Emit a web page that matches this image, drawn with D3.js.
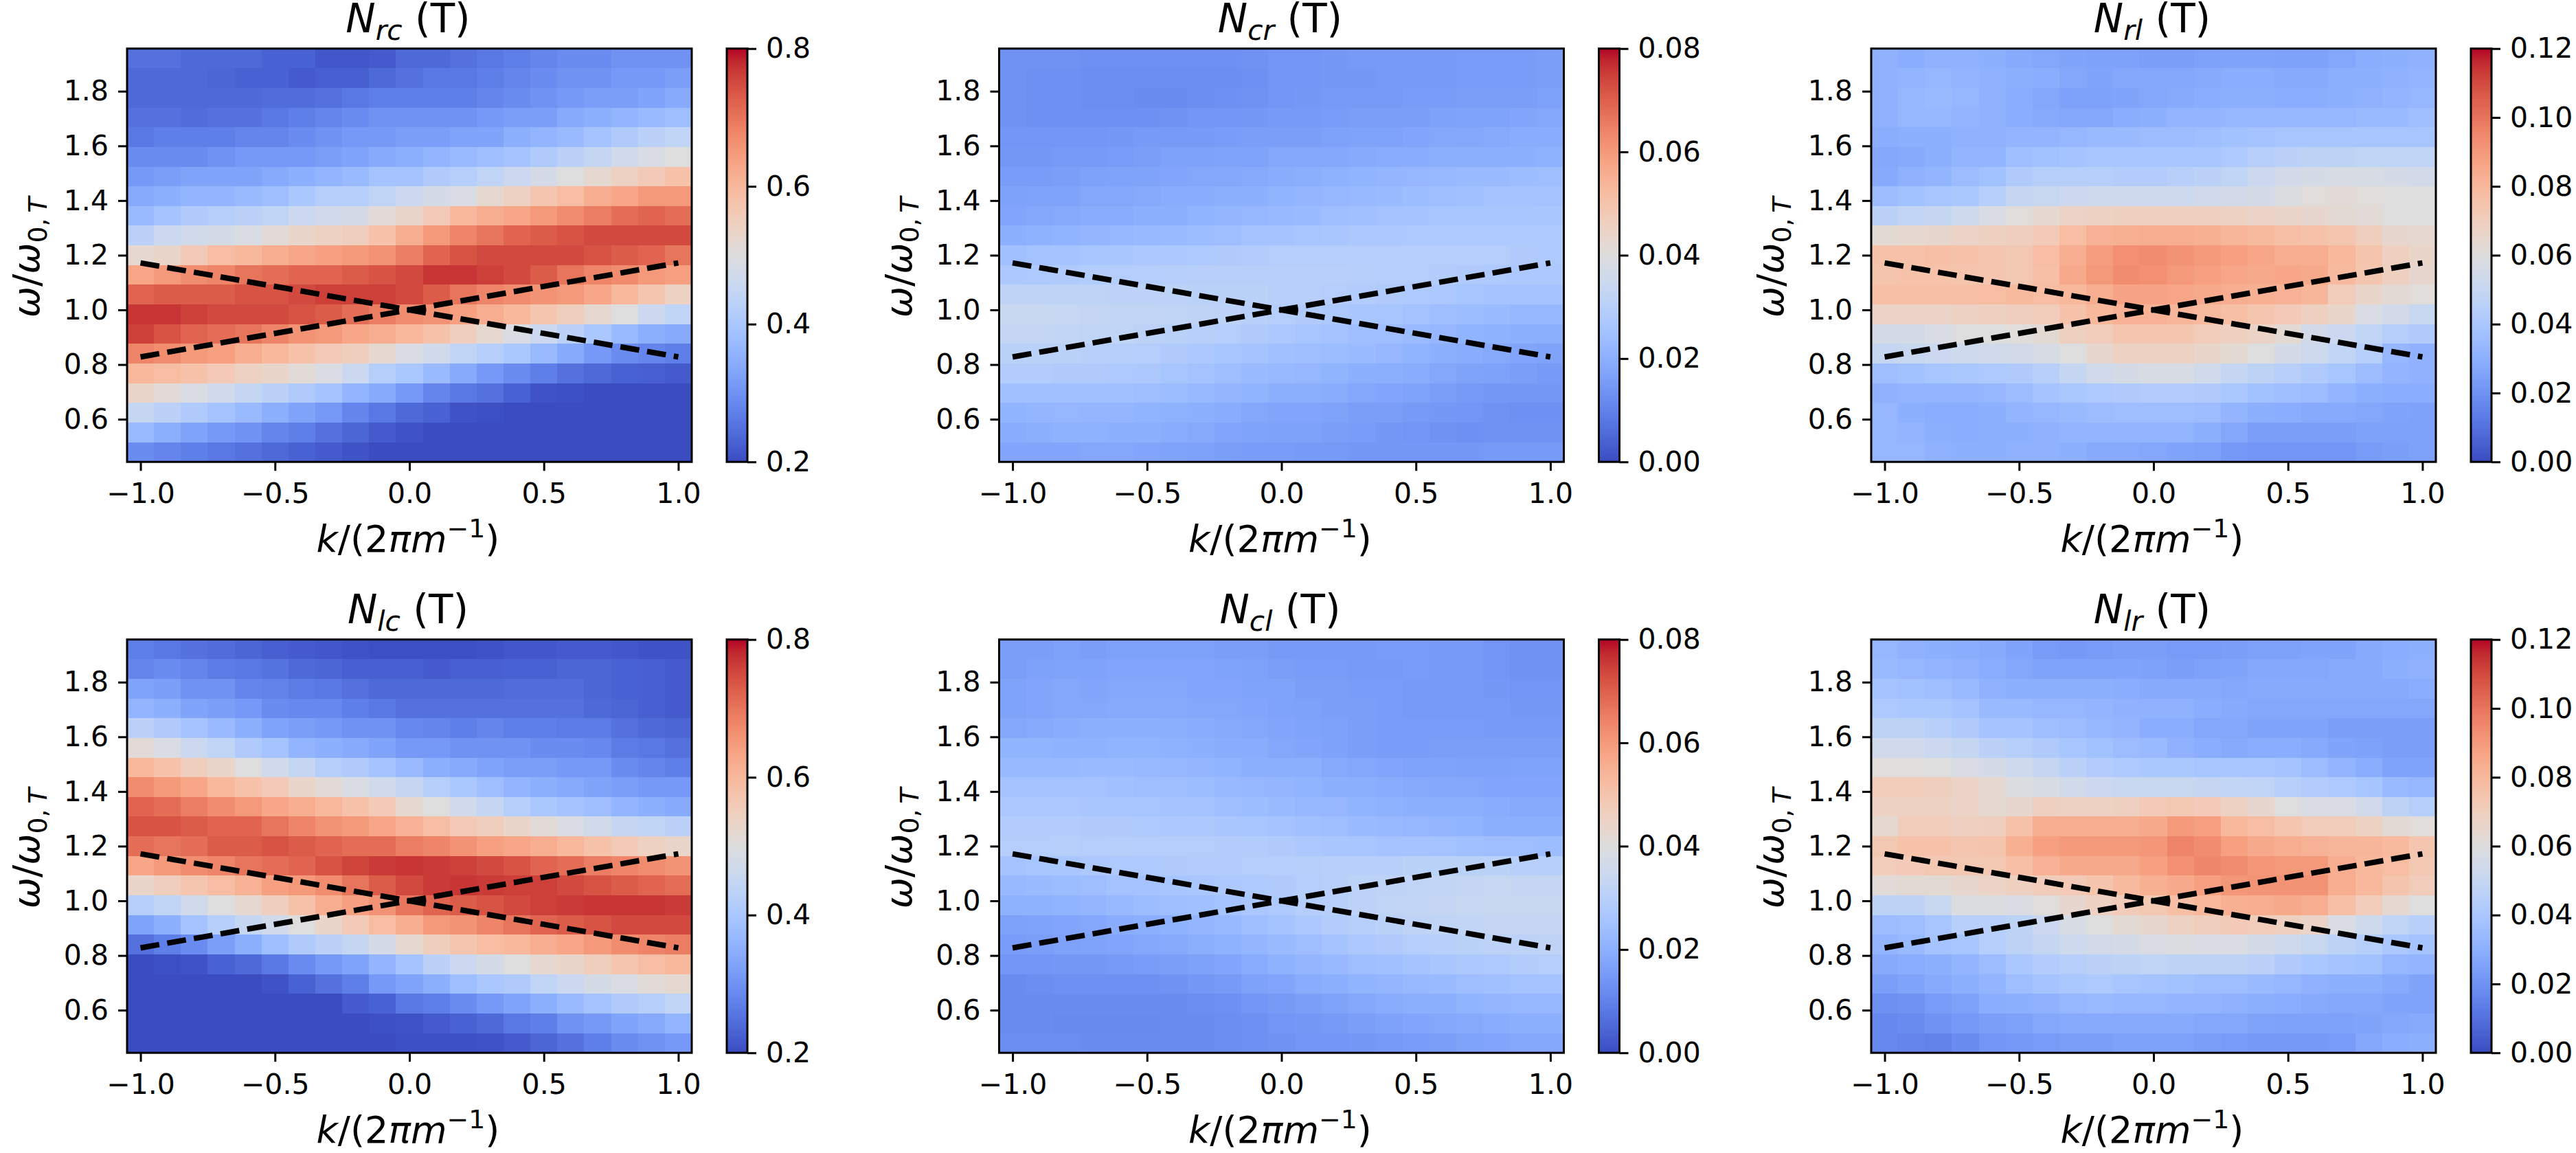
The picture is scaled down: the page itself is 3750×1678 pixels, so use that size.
<!DOCTYPE html>
<html>
<head>
<meta charset="utf-8">
<script src="https://cdn.jsdelivr.net/npm/d3@7/dist/d3.min.js"></script>
<style>
html,body{margin:0;padding:0;background:#fff;overflow:hidden;width:3750px;height:1678px}
svg{display:block}
text{font-family:"DejaVu Sans";fill:#000}
</style>
</head>
<body>
<svg id="fig" width="3750" height="1678" viewBox="0 0 3750 1678"></svg>
<script>
const kValues=[-1,-0.9,-0.8,-0.7,-0.6,-0.5,-0.4,-0.3,-0.2,-0.1,0,0.1,0.2,0.3,0.4,0.5,0.6,0.7,0.8,0.9,1];
const wValues=[1.92,1.848,1.776,1.704,1.632,1.56,1.488,1.416,1.344,1.272,1.2,1.128,1.056,0.984,0.912,0.84,0.768,0.696,0.624,0.552,0.48];
const xTicks=[-1,-0.5,0,0.5,1];
const yTicks=[0.6,0.8,1.0,1.2,1.4,1.6,1.8];
const lineK=[-1,0,1];
const lineDown=[1.172,1,0.828];
const lineUp=[0.828,1,1.172];

const Nrc=[
[.25,.25,.24,.24,.24,.23,.23,.215,.215,.22,.24,.24,.25,.26,.27,.28,.29,.29,.30,.30,.30],
[.24,.24,.24,.235,.23,.23,.22,.225,.225,.24,.25,.26,.26,.27,.28,.29,.30,.30,.31,.31,.32],
[.24,.24,.24,.24,.24,.245,.245,.25,.26,.27,.27,.27,.27,.28,.29,.30,.31,.32,.32,.33,.34],
[.25,.25,.245,.25,.25,.26,.27,.28,.29,.30,.30,.30,.30,.31,.32,.32,.34,.35,.36,.37,.38],
[.26,.27,.27,.27,.28,.28,.29,.30,.31,.31,.32,.32,.33,.33,.35,.36,.37,.39,.41,.43,.44],
[.29,.29,.29,.30,.31,.31,.31,.32,.33,.34,.35,.36,.37,.38,.39,.41,.43,.45,.47,.49,.50],
[.31,.32,.33,.33,.33,.34,.35,.36,.37,.39,.39,.41,.42,.44,.46,.48,.50,.52,.54,.56,.58],
[.34,.35,.36,.36,.37,.38,.40,.42,.42,.44,.46,.48,.49,.52,.54,.57,.59,.62,.63,.65,.65],
[.37,.39,.41,.42,.43,.44,.46,.47,.48,.51,.53,.56,.60,.62,.63,.65,.67,.69,.71,.72,.71],
[.43,.46,.47,.48,.49,.51,.53,.54,.55,.58,.62,.65,.68,.70,.72,.73,.74,.75,.75,.75,.75],
[.52,.53,.56,.59,.60,.62,.63,.64,.65,.66,.69,.72,.74,.75,.75,.75,.75,.74,.73,.72,.70],
[.63,.65,.67,.68,.70,.71,.72,.72,.73,.74,.75,.77,.77,.76,.75,.73,.70,.68,.67,.65,.64],
[.72,.73,.73,.73,.74,.74,.75,.76,.76,.76,.75,.73,.70,.68,.67,.66,.65,.63,.60,.57,.54],
[.77,.77,.76,.75,.75,.75,.74,.73,.71,.69,.67,.66,.64,.62,.60,.57,.55,.52,.50,.46,.44],
[.76,.74,.72,.71,.70,.68,.66,.65,.63,.62,.60,.58,.55,.52,.49,.46,.43,.40,.37,.35,.34],
[.68,.67,.65,.64,.62,.60,.58,.56,.55,.52,.49,.47,.44,.42,.40,.37,.34,.31,.29,.28,.27],
[.60,.59,.58,.56,.54,.53,.51,.49,.46,.42,.40,.37,.34,.31,.29,.27,.25,.24,.23,.225,.22],
[.53,.51,.49,.47,.45,.43,.41,.39,.36,.34,.31,.28,.26,.25,.23,.21,.205,.20,.20,.20,.20],
[.45,.43,.41,.39,.37,.35,.33,.31,.28,.26,.24,.23,.21,.205,.20,.20,.20,.20,.20,.20,.20],
[.37,.35,.33,.31,.30,.28,.27,.25,.235,.22,.21,.20,.20,.20,.20,.20,.20,.20,.20,.20,.20],
[.29,.28,.27,.26,.25,.24,.23,.22,.21,.20,.20,.20,.20,.20,.20,.20,.20,.20,.20,.20,.20]];

const Nlc=[
[.27,.26,.25,.245,.235,.225,.22,.215,.21,.205,.205,.205,.205,.21,.215,.215,.22,.22,.215,.21,.21],
[.28,.29,.28,.265,.26,.255,.24,.235,.225,.225,.225,.22,.225,.225,.23,.23,.235,.235,.23,.225,.22],
[.33,.32,.30,.30,.28,.275,.265,.26,.25,.24,.24,.24,.24,.24,.245,.245,.245,.235,.23,.225,.22],
[.36,.35,.33,.32,.31,.29,.285,.285,.27,.26,.25,.25,.25,.25,.25,.25,.25,.24,.235,.225,.22],
[.43,.41,.39,.37,.35,.33,.32,.31,.30,.30,.285,.28,.27,.28,.27,.27,.265,.265,.25,.24,.235],
[.51,.49,.46,.44,.41,.39,.36,.35,.34,.33,.31,.31,.30,.30,.30,.29,.29,.285,.265,.26,.25],
[.60,.58,.55,.53,.50,.47,.45,.42,.41,.39,.37,.35,.34,.33,.32,.32,.31,.31,.29,.28,.27],
[.67,.65,.63,.60,.58,.56,.53,.51,.49,.47,.45,.42,.40,.38,.36,.35,.34,.33,.32,.31,.31],
[.72,.71,.69,.67,.65,.63,.62,.60,.58,.56,.52,.50,.47,.45,.42,.40,.39,.38,.36,.35,.34],
[.74,.74,.73,.72,.72,.70,.68,.66,.65,.63,.61,.59,.56,.55,.53,.51,.49,.47,.45,.44,.43],
[.71,.70,.71,.73,.73,.74,.73,.72,.71,.71,.69,.68,.66,.64,.63,.62,.60,.58,.56,.54,.53],
[.63,.65,.67,.68,.70,.71,.72,.74,.755,.765,.77,.765,.76,.75,.74,.72,.71,.69,.68,.67,.66],
[.53,.55,.57,.59,.61,.64,.65,.67,.70,.73,.75,.765,.77,.765,.76,.76,.75,.74,.73,.72,.71],
[.42,.44,.47,.50,.52,.55,.58,.62,.64,.66,.70,.72,.73,.74,.75,.76,.765,.77,.77,.77,.765],
[.33,.35,.39,.42,.45,.47,.50,.53,.56,.59,.62,.65,.66,.68,.70,.72,.73,.74,.75,.75,.75],
[.25,.27,.29,.32,.35,.38,.41,.43,.45,.48,.52,.55,.57,.59,.60,.62,.63,.65,.67,.68,.69],
[.20,.205,.21,.23,.24,.26,.29,.31,.33,.36,.39,.43,.46,.48,.50,.52,.53,.55,.57,.59,.60],
[.20,.20,.20,.20,.20,.21,.23,.25,.27,.31,.33,.35,.38,.40,.41,.44,.46,.48,.49,.51,.52],
[.20,.20,.20,.20,.20,.20,.20,.20,.22,.23,.26,.27,.29,.31,.33,.35,.37,.39,.41,.42,.44],
[.20,.20,.20,.20,.20,.20,.20,.20,.20,.205,.21,.22,.23,.24,.26,.27,.30,.31,.33,.34,.36],
[.20,.20,.20,.20,.20,.20,.20,.20,.20,.20,.205,.205,.205,.21,.22,.235,.25,.27,.29,.30,.31]];

const Ncr=[
[.0135,.0135,.0135,.013,.013,.013,.013,.013,.013,.0135,.014,.014,.0145,.015,.015,.015,.015,.0155,.0155,.0155,.016],
[.0135,.013,.013,.0125,.0125,.0125,.0125,.0125,.0125,.013,.014,.014,.0145,.0145,.015,.015,.015,.0155,.0155,.0155,.016],
[.0135,.013,.013,.0125,.0125,.012,.012,.0125,.013,.0135,.014,.0145,.015,.015,.015,.0155,.0155,.016,.016,.016,.0165],
[.0135,.013,.013,.013,.013,.013,.0135,.014,.014,.0145,.015,.015,.0155,.016,.016,.016,.0165,.017,.017,.0175,.018],
[.014,.014,.014,.014,.0145,.015,.015,.015,.0155,.016,.016,.016,.0165,.017,.017,.0175,.018,.018,.0185,.019,.019],
[.0145,.0145,.015,.015,.0155,.016,.0165,.0165,.017,.017,.018,.018,.018,.0185,.019,.019,.0195,.02,.02,.02,.0205],
[.0155,.0155,.016,.0165,.017,.017,.0175,.018,.018,.0185,.019,.0195,.0205,.021,.0215,.022,.0225,.023,.023,.0235,.024],
[.0165,.017,.017,.018,.018,.0185,.019,.019,.02,.02,.021,.0215,.022,.0225,.023,.0235,.024,.0245,.025,.025,.025],
[.0175,.018,.0185,.019,.019,.02,.02,.021,.0215,.022,.0225,.023,.024,.0245,.025,.0255,.026,.026,.026,.026,.0265],
[.02,.0205,.021,.0215,.022,.0225,.023,.0235,.024,.025,.0255,.026,.0265,.027,.027,.0275,.0275,.0275,.0275,.0275,.0275],
[.0245,.025,.0255,.026,.0265,.027,.027,.0275,.028,.0285,.029,.029,.029,.029,.029,.029,.029,.029,.029,.028,.0275],
[.027,.0275,.028,.0285,.029,.029,.0295,.03,.03,.03,.03,.03,.03,.0295,.029,.029,.0285,.028,.0275,.027,.027],
[.0315,.0315,.0315,.0315,.031,.031,.031,.0305,.0305,.0305,.03,.03,.029,.0285,.028,.0275,.027,.026,.0255,.025,.025],
[.034,.034,.0335,.033,.0325,.0325,.032,.0315,.031,.03,.029,.028,.027,.0265,.026,.025,.024,.0235,.023,.022,.022],
[.033,.033,.0325,.032,.032,.031,.0305,.03,.029,.028,.027,.026,.025,.024,.024,.023,.022,.021,.0205,.02,.0195],
[.0305,.0305,.0305,.03,.0295,.029,.028,.027,.026,.0255,.0245,.024,.0235,.023,.022,.021,.02,.019,.0185,.0175,.017],
[.0285,.0285,.028,.028,.0275,.027,.026,.025,.024,.023,.0225,.022,.021,.02,.0195,.019,.018,.017,.0165,.016,.015],
[.0245,.0245,.0245,.0245,.0245,.024,.0235,.0225,.0215,.021,.02,.0195,.019,.018,.0175,.017,.016,.015,.0145,.0145,.0145],
[.021,.0215,.022,.0215,.0215,.021,.0205,.02,.019,.018,.0175,.0175,.017,.016,.016,.015,.0145,.014,.0135,.013,.013],
[.019,.0195,.0205,.0205,.02,.02,.019,.0185,.0175,.017,.0165,.0165,.016,.0155,.0145,.014,.0135,.013,.0135,.0135,.0135],
[.0175,.0175,.0175,.018,.018,.0175,.017,.0165,.016,.0155,.0155,.015,.015,.0145,.0145,.0145,.0145,.0145,.015,.015,.015]];

const Ncl=[
[.016,.016,.0165,.016,.0165,.0165,.0165,.0165,.016,.016,.015,.015,.015,.015,.0155,.0155,.015,.015,.014,.0135,.0135],
[.016,.0165,.017,.017,.0175,.0175,.0175,.0175,.017,.0165,.016,.0155,.0155,.015,.015,.0155,.015,.015,.014,.0135,.0135],
[.017,.0175,.018,.0175,.018,.018,.018,.0175,.0175,.017,.017,.016,.016,.0155,.0155,.015,.015,.015,.0145,.014,.014],
[.017,.0175,.018,.018,.0185,.0185,.0185,.018,.018,.0175,.017,.0165,.016,.016,.0155,.015,.015,.015,.015,.0145,.0145],
[.018,.0185,.019,.0195,.02,.02,.0195,.019,.0185,.018,.0175,.017,.0165,.016,.0155,.0155,.0155,.0155,.015,.015,.015],
[.021,.021,.0205,.0205,.021,.021,.0205,.02,.019,.019,.018,.0175,.0165,.016,.0155,.0155,.016,.016,.016,.016,.016],
[.0225,.0225,.0225,.023,.023,.0225,.022,.0215,.021,.02,.02,.0195,.0185,.018,.0175,.017,.017,.0165,.0165,.017,.017],
[.025,.025,.025,.025,.0245,.024,.024,.0235,.0225,.022,.0215,.021,.02,.0195,.019,.0185,.018,.018,.0175,.0175,.0175],
[.027,.027,.027,.0265,.026,.026,.0255,.025,.024,.0235,.023,.022,.022,.021,.0205,.02,.0195,.0195,.019,.0185,.0185],
[.0285,.0285,.0285,.028,.028,.0275,.027,.027,.0265,.026,.0255,.0245,.024,.023,.0225,.022,.0215,.021,.02,.0195,.0195],
[.029,.029,.0295,.029,.0295,.029,.029,.029,.0285,.0285,.028,.027,.0265,.026,.0255,.0255,.025,.0245,.024,.024,.0235],
[.0255,.026,.0265,.027,.0275,.0275,.028,.0285,.0285,.029,.029,.0295,.03,.03,.03,.0305,.0305,.0305,.0305,.03,.0295],
[.0225,.023,.0235,.024,.025,.0255,.026,.0265,.027,.0275,.028,.029,.03,.031,.0315,.032,.0325,.033,.0335,.033,.033],
[.0205,.0205,.021,.0215,.0225,.0235,.024,.0245,.0255,.0265,.0275,.029,.03,.031,.032,.0325,.033,.0335,.034,.034,.034],
[.0165,.017,.0175,.018,.019,.0195,.0205,.0215,.0225,.024,.0255,.027,.0285,.0295,.0305,.0315,.032,.0325,.033,.033,.033],
[.0155,.016,.0165,.017,.0175,.018,.0185,.0195,.0205,.0215,.023,.024,.0255,.027,.028,.029,.03,.0305,.031,.031,.0315],
[.014,.014,.0145,.0145,.015,.0155,.016,.0165,.0175,.019,.0205,.0215,.0225,.024,.0245,.0255,.0265,.027,.0275,.0285,.029],
[.012,.0125,.013,.013,.013,.013,.0135,.0145,.015,.0165,.0175,.019,.02,.021,.0215,.0225,.023,.024,.0245,.025,.025],
[.012,.012,.012,.012,.012,.012,.012,.0125,.013,.014,.015,.016,.017,.018,.019,.0195,.02,.021,.0215,.022,.022],
[.012,.012,.0115,.0115,.0115,.0115,.012,.012,.0125,.013,.014,.0145,.015,.016,.0165,.0175,.018,.0185,.019,.0195,.02],
[.0125,.0125,.0125,.012,.012,.012,.012,.012,.0125,.013,.0135,.014,.014,.0145,.015,.0155,.016,.017,.0175,.018,.018]];

const Nrl=[
[.031,.029,.031,.031,.030,.028,.027,.026,.025,.025,.024,.024,.025,.026,.026,.025,.025,.027,.029,.030,.031],
[.031,.032,.033,.032,.031,.030,.029,.027,.026,.027,.027,.027,.028,.029,.029,.028,.028,.030,.030,.031,.032],
[.031,.033,.034,.033,.031,.029,.027,.025,.025,.026,.027,.028,.029,.030,.030,.029,.029,.030,.031,.032,.033],
[.031,.033,.033,.032,.031,.029,.028,.027,.027,.029,.030,.032,.032,.033,.033,.033,.033,.033,.034,.034,.036],
[.029,.030,.030,.031,.031,.032,.032,.033,.034,.034,.035,.035,.036,.037,.038,.039,.039,.039,.039,.039,.039],
[.027,.028,.030,.032,.032,.036,.037,.038,.039,.039,.039,.039,.039,.041,.044,.046,.047,.047,.048,.048,.048],
[.028,.031,.032,.035,.037,.042,.044,.044,.044,.043,.043,.045,.046,.048,.052,.055,.056,.057,.057,.056,.055],
[.035,.037,.039,.040,.044,.050,.051,.052,.053,.053,.053,.053,.054,.055,.056,.059,.061,.062,.061,.060,.060],
[.046,.049,.050,.053,.058,.061,.064,.067,.068,.069,.069,.069,.069,.068,.067,.066,.065,.063,.062,.060,.060],
[.063,.064,.065,.067,.069,.070,.072,.078,.082,.083,.084,.084,.083,.081,.079,.077,.076,.074,.070,.065,.064],
[.076,.076,.077,.076,.074,.073,.078,.084,.089,.093,.094,.092,.090,.088,.086,.084,.084,.080,.075,.069,.066],
[.075,.076,.076,.075,.074,.073,.077,.085,.090,.094,.093,.090,.088,.086,.085,.086,.085,.079,.074,.069,.065],
[.077,.077,.077,.077,.078,.079,.078,.080,.084,.087,.087,.086,.085,.084,.083,.082,.081,.071,.066,.063,.061],
[.067,.067,.067,.068,.069,.070,.071,.076,.080,.082,.082,.081,.079,.077,.074,.072,.069,.066,.058,.055,.051],
[.056,.056,.058,.060,.060,.061,.063,.069,.071,.074,.074,.074,.071,.069,.067,.063,.055,.052,.048,.044,.042],
[.050,.051,.052,.053,.054,.055,.057,.060,.065,.068,.068,.068,.066,.063,.060,.056,.053,.049,.044,.033,.031],
[.036,.037,.039,.040,.041,.042,.045,.050,.054,.056,.057,.057,.054,.050,.047,.045,.042,.039,.035,.032,.031],
[.031,.032,.032,.032,.033,.035,.038,.040,.041,.042,.043,.043,.042,.040,.037,.036,.035,.032,.030,.029,.029],
[.033,.030,.029,.029,.030,.032,.033,.034,.035,.036,.036,.036,.035,.032,.030,.029,.028,.028,.027,.026,.025],
[.033,.032,.030,.029,.030,.030,.031,.032,.032,.032,.032,.032,.030,.027,.024,.024,.024,.024,.025,.025,.025],
[.033,.033,.031,.030,.030,.031,.031,.030,.028,.028,.027,.026,.025,.022,.021,.021,.021,.021,.023,.024,.025]];

const Nlr=[
[.033,.031,.030,.029,.028,.026,.023,.022,.023,.024,.024,.023,.023,.024,.025,.025,.026,.026,.028,.029,.030],
[.034,.033,.032,.031,.029,.027,.026,.026,.026,.026,.025,.024,.025,.026,.027,.027,.027,.028,.028,.030,.031],
[.038,.037,.036,.034,.031,.030,.030,.030,.030,.029,.028,.028,.028,.027,.028,.028,.028,.028,.028,.028,.029],
[.041,.040,.040,.038,.034,.034,.033,.033,.032,.031,.031,.031,.029,.028,.027,.027,.027,.027,.027,.027,.027],
[.047,.047,.045,.042,.038,.038,.036,.035,.033,.032,.029,.029,.027,.027,.026,.026,.026,.024,.024,.024,.024],
[.054,.054,.052,.050,.046,.044,.042,.039,.037,.035,.034,.031,.029,.028,.029,.029,.028,.026,.025,.024,.024],
[.061,.061,.060,.058,.056,.053,.050,.046,.043,.041,.040,.040,.039,.039,.039,.038,.035,.032,.029,.026,.026],
[.071,.071,.070,.067,.064,.059,.057,.054,.052,.051,.051,.051,.050,.049,.048,.045,.043,.041,.039,.034,.033],
[.068,.068,.068,.067,.064,.065,.069,.068,.068,.069,.072,.073,.072,.068,.065,.060,.058,.058,.054,.047,.044],
[.064,.071,.071,.069,.070,.076,.084,.084,.084,.084,.085,.090,.088,.080,.078,.074,.071,.071,.068,.063,.061],
[.073,.076,.076,.074,.075,.083,.088,.090,.090,.090,.091,.096,.094,.088,.085,.084,.082,.081,.081,.079,.074],
[.071,.072,.073,.073,.073,.077,.082,.085,.085,.085,.088,.093,.095,.094,.091,.090,.090,.084,.080,.078,.073],
[.062,.063,.063,.065,.067,.069,.071,.072,.075,.079,.083,.085,.088,.091,.092,.092,.092,.084,.080,.075,.071],
[.047,.047,.051,.059,.059,.058,.061,.065,.068,.071,.073,.077,.080,.083,.084,.085,.084,.077,.071,.064,.060],
[.035,.036,.039,.045,.045,.047,.052,.057,.060,.063,.065,.068,.070,.072,.071,.069,.067,.058,.053,.048,.045],
[.032,.034,.038,.039,.044,.047,.050,.053,.055,.056,.058,.059,.058,.058,.056,.053,.051,.047,.044,.040,.038],
[.028,.029,.030,.032,.035,.040,.043,.044,.046,.047,.048,.047,.047,.047,.046,.042,.040,.038,.037,.033,.032],
[.024,.026,.028,.030,.032,.036,.038,.040,.041,.039,.038,.037,.036,.036,.034,.033,.031,.030,.030,.028,.026],
[.019,.020,.023,.025,.029,.030,.031,.033,.034,.033,.033,.032,.032,.031,.030,.029,.028,.027,.027,.026,.026],
[.017,.018,.020,.022,.024,.025,.027,.028,.028,.028,.028,.028,.027,.027,.026,.025,.025,.025,.026,.027,.028],
[.017,.016,.015,.018,.021,.022,.023,.024,.024,.025,.025,.025,.024,.023,.022,.022,.022,.023,.027,.029,.030]];

const scaleTicksA=[0.2,0.4,0.6,0.8];
const scaleTicksB=[0,0.02,0.04,0.06,0.08];
const scaleTicksC=[0,0.02,0.04,0.06,0.08,0.10,0.12];

const coolwarmStops=["#3b4cc0","#445acc","#4d68d7","#5775e1","#6282ea","#6c8ef1","#779af7","#82a5fb","#8db0fe","#98b9ff","#a3c2ff","#aec9fd","#b8d0f9","#c2d5f4","#ccd9ee","#d5dbe6","#dddddd","#e5d8d1","#ecd3c5","#f1ccb9","#f5c4ad","#f7bba0","#f7b194","#f7a687","#f49a7b","#f18d6f","#ec7f63","#e57058","#de604d","#d55042","#cb3e38","#c0282f","#b40426"];

const panels=[
 {sub:"rc",data:Nrc,vmin:.2,vmax:.8,ticks:scaleTicksA,fmt:".1f",col:0,row:0},
 {sub:"cr",data:Ncr,vmin:0,vmax:.08,ticks:scaleTicksB,fmt:".2f",col:1,row:0},
 {sub:"rl",data:Nrl,vmin:0,vmax:.12,ticks:scaleTicksC,fmt:".2f",col:2,row:0},
 {sub:"lc",data:Nlc,vmin:.2,vmax:.8,ticks:scaleTicksA,fmt:".1f",col:0,row:1},
 {sub:"cl",data:Ncl,vmin:0,vmax:.08,ticks:scaleTicksB,fmt:".2f",col:1,row:1},
 {sub:"lr",data:Nlr,vmin:0,vmax:.12,ticks:scaleTicksC,fmt:".2f",col:2,row:1}
];

const colLeft=[185,1454.5,2724], rowTop=[70.7,930.7];
const axW=822, axH=601.5, cbOffset=873, cbW=30;
const tickFont=41, labelFont=54, titleFont=58, spine=3, tickLen=13;
const svg=d3.select("#fig");
const defs=svg.append("defs");

const cmap=d3.scaleLinear().domain(coolwarmStops.map((c,i)=>i/(coolwarmStops.length-1))).range(coolwarmStops).interpolate(d3.interpolateRgb).clamp(true);
const grad=defs.append("linearGradient").attr("id","cw").attr("x1",0).attr("x2",0).attr("y1",1).attr("y2",0);
coolwarmStops.forEach((c,i)=>grad.append("stop").attr("offset",i/(coolwarmStops.length-1)).attr("stop-color",c));

function rich(sel,parts,size){
  let shift=0;
  parts.forEach(p=>{
    const s=p.s||0;
    const ts=sel.append("tspan").text(p.t).attr("font-size",size*(p.k||1)).attr("font-style",p.i?"italic":"normal");
    const d=s-shift;
    if(d!==0) ts.attr("dy",-d*size);
    shift=s;
  });
  return sel;
}

panels.forEach((p,pi)=>{
  const x0=colLeft[p.col], y0=rowTop[p.row];
  const g=svg.append("g").attr("transform",`translate(${x0},${y0})`);
  const x=d3.scaleLinear().domain([-1.05,1.05]).range([0,axW]);
  const y=d3.scaleLinear().domain([0.444,1.956]).range([axH,0]);
  const color=d3.scaleLinear().domain([p.vmin,p.vmax]).range([0,1]).clamp(true);
  const cells=p.data.flatMap((row,r)=>row.map((v,c)=>({k:kValues[c],w:wValues[r],v})));
  g.append("g").attr("shape-rendering","crispEdges").selectAll("rect").data(cells).join("rect")
    .attr("x",d=>x(d.k-0.05)).attr("width",d=>x(d.k+0.05)-x(d.k-0.05))
    .attr("y",d=>y(d.w+0.036)).attr("height",d=>y(d.w-0.036)-y(d.w+0.036))
    .attr("fill",d=>cmap(color(d.v)));
  const line=d3.line().x(d=>x(d[0])).y(d=>y(d[1]));
  [lineDown,lineUp].forEach(vals=>{
    g.append("path").datum(lineK.map((k,i)=>[k,vals[i]])).attr("d",line)
      .attr("fill","none").attr("stroke","#000").attr("stroke-width",8)
      .attr("stroke-dasharray","27.7 11.7");
  });
  g.append("rect").attr("width",axW).attr("height",axH).attr("fill","none").attr("stroke","#000").attr("stroke-width",spine);

  const xa=g.append("g").attr("transform",`translate(0,${axH})`)
    .call(d3.axisBottom(x).tickValues(xTicks).tickFormat(d3.format(".1f")).tickSizeInner(tickLen).tickSizeOuter(0).tickPadding(18));
  const ya=g.append("g").call(d3.axisLeft(y).tickValues(yTicks).tickFormat(d3.format(".1f")).tickSizeInner(tickLen).tickSizeOuter(0).tickPadding(14));
  [xa,ya].forEach(a=>{
    a.select(".domain").remove();
    a.selectAll("line").attr("stroke","#000").attr("stroke-width",spine);
    a.selectAll("text").attr("font-size",tickFont).attr("font-family","DejaVu Sans").attr("fill","#000");
  });

  rich(g.append("text").attr("x",axW/2-2).attr("y",-24).attr("text-anchor","middle"),
    [{t:"N",i:1},{t:p.sub,i:1,k:.7,s:-.2},{t:" (T)"}],titleFont);
  rich(g.append("text").attr("x",axW/2-2).attr("y",axH+131).attr("text-anchor","middle"),
    [{t:"k",i:1},{t:"/(2"},{t:"π",i:1},{t:"m",i:1},{t:"−1",k:.7,s:.4},{t:")"}],labelFont);
  rich(g.append("text").attr("transform",`translate(-128,${axH/2+3}) rotate(-90)`).attr("text-anchor","middle"),
    [{t:"ω",i:1},{t:"/"},{t:"ω",i:1},{t:"0,\u2009",k:.7,s:-.2},{t:"T",i:1,k:.7,s:-.2}],labelFont);

  const cb=g.append("g").attr("transform",`translate(${cbOffset},0)`);
  const cy=d3.scaleLinear().domain([p.vmin,p.vmax]).range([axH,0]);
  cb.append("rect").attr("width",cbW).attr("height",axH).attr("fill","url(#cw)");
  cb.append("rect").attr("width",cbW).attr("height",axH).attr("fill","none").attr("stroke","#000").attr("stroke-width",spine);
  const ca=cb.append("g").attr("transform",`translate(${cbW},0)`)
    .call(d3.axisRight(cy).tickValues(p.ticks).tickFormat(d3.format(p.fmt)).tickSizeInner(tickLen).tickSizeOuter(0).tickPadding(14));
  ca.select(".domain").remove();
  ca.selectAll("line").attr("stroke","#000").attr("stroke-width",spine);
  ca.selectAll("text").attr("font-size",tickFont).attr("font-family","DejaVu Sans").attr("fill","#000");
});
</script>
</body>
</html>
